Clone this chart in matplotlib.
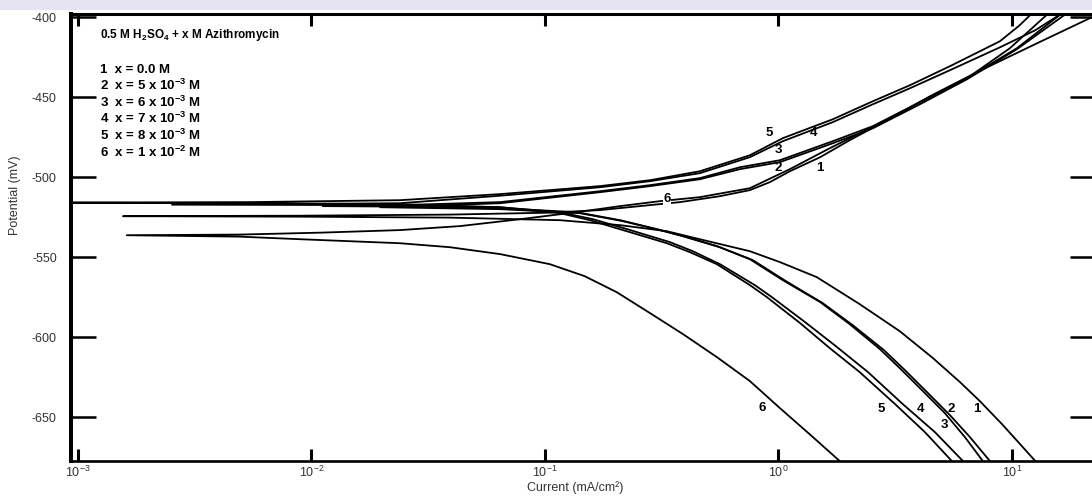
import matplotlib.pyplot as plt
from matplotlib.ticker import LogLocator, LogFormatterSciNotation, MultipleLocator, NullLocator
from matplotlib.patches import Rectangle

plt.rcParams['font.family'] = ['Liberation Sans', 'DejaVu Sans']
plt.rcParams['mathtext.fontset'] = 'custom'
plt.rcParams['mathtext.rm'] = 'Liberation Sans'
plt.rcParams['mathtext.it'] = 'Liberation Sans:italic'
plt.rcParams['mathtext.bf'] = 'Liberation Sans:bold'
plt.rcParams['axes.unicode_minus'] = False

# Curvas de Tafel: corriente (mA/cm2) y potencial (mV), rama catodica -> Ecorr -> rama anodica
i1 = [12.6, 9.15, 7.29, 5.99, 4.59, 3.31, 2.23, 1.46, 1.015, 0.755, 0.461, 0.333, 0.210, 0.116,
      0.0392, 0.00893, 0.00156,
      0.00893, 0.0392, 0.105, 0.172, 0.255, 0.379, 0.562, 0.755, 0.920, 1.12, 1.51, 2.02, 2.92,
      4.46, 7.08, 12.8, 22.0, 29.0]
e1 = [-677.5, -655, -640, -628.1, -613.1, -596.3, -579.4, -562.5, -553.1, -546.3, -538.8, -533.8,
      -530, -526.9, -525.3, -524.7, -524.4,
      -524.1, -523.4, -522.2, -520.6, -518.1, -515.6, -511.9, -508.1, -503.1, -496.3, -487.5,
      -476.9, -464.4, -449.4, -434.4, -416.3, -400, -391.9]

i2 = [8.05, 6.61, 5.43, 4.33, 3.48, 2.83, 2.08, 1.55, 1.077, 0.778, 0.562, 0.390, 0.311, 0.216,
      0.141, 0.0642, 0.0197,
      0.0642, 0.172, 0.282, 0.461, 0.684, 1.015, 1.71, 2.54, 4.04, 6.42, 10.5, 17.2, 19.0]
e2 = [-677.5, -662.5, -648.8, -634.4, -620.6, -608.1, -592.5, -578.8, -565, -551.9, -543.8, -536.9,
      -533.1, -527.5, -522.5, -520, -518.8,
      -516.3, -509.4, -505.6, -501.3, -495, -490.6, -478.8, -469.4, -454.4, -438.8, -420, -397.5,
      -393.1]

i3 = [7.51, 6.29, 5.16, 4.16, 3.31, 2.72, 2.02, 1.51, 1.045, 0.755, 0.545, 0.379, 0.302, 0.210,
      0.137, 0.0642, 0.0239, 0.0112,
      0.0239, 0.0642, 0.172, 0.282, 0.461, 0.684, 1.015, 1.71, 2.54, 4.04, 6.42, 10.5, 16.4, 18.1]
e3 = [-677.5, -662.5, -647.5, -633.8, -619.4, -607.5, -591.9, -578.1, -564.4, -551.3, -543.1,
      -536.3, -532.5, -526.9, -521.9, -519.4, -518.4, -518.1,
      -517.5, -515.6, -508.8, -505, -500.6, -493.8, -489.4, -477.5, -468.1, -453.1, -438.1,
      -419.4, -397.5, -393.1]

i4 = [6.17, 4.68, 3.41, 2.42, 1.76, 1.30, 0.938, 0.793, 0.562, 0.430, 0.343, 0.225, 0.161, 0.116,
      0.0642, 0.0239, 0.00253,
      0.0239, 0.0642, 0.172, 0.282, 0.461, 0.755, 1.045, 1.71, 2.54, 3.66, 5.43, 8.89, 12.6,
      16.4, 18.1]
e4 = [-677.5, -659.4, -641.9, -621.9, -605.6, -590.6, -575, -567.5, -554.4, -546.3, -540.6, -532.5,
      -526.3, -521.9, -518.8, -517.5, -517.2,
      -516.3, -511.6, -506.3, -502.5, -497.5, -487.5, -477.5, -465.6, -454.4, -444.4, -433.1,
      -418.8, -408.1, -397.5, -392.5]

i5 = [5.53, 4.24, 3.16, 2.23, 1.66, 1.24, 0.893, 0.755, 0.545, 0.418, 0.333, 0.216, 0.156, 0.116,
      0.0642, 0.0239, 0.00545, 0.000687,
      0.00545, 0.0239, 0.0642, 0.172, 0.282, 0.461, 0.755, 1.045, 1.71, 2.54, 3.66, 5.43, 8.89,
      10.8, 12.2, 13.2]
e5 = [-677.5, -659.4, -641.9, -621.9, -606.9, -591.3, -575, -567.5, -554.4, -546.9, -541.3, -533.1,
      -526.9, -522.5, -518.8, -516.9, -516.3, -515.9,
      -515.6, -514.4, -510.6, -505.6, -501.9, -496.3, -486.3, -475.6, -463.8, -452.5, -442.5,
      -430.6, -415, -405, -397.5, -391.9]

i6 = [1.83, 1.39, 1.015, 0.755, 0.545, 0.390, 0.282, 0.203, 0.148, 0.105, 0.0642, 0.0392, 0.0239,
      0.00893, 0.00494, 0.00162,
      0.00494, 0.0109, 0.0239, 0.0433, 0.0781, 0.137, 0.210, 0.311, 0.461, 0.755, 1.12, 1.66,
      2.47, 4.04, 6.61, 9.80, 12.6, 14.5]
e6 = [-677.5, -661.9, -644.4, -627.5, -612.5, -598.1, -585, -571.9, -561.9, -554.4, -548.1, -543.8,
      -541.3, -538.8, -537.2, -536.3,
      -535.9, -534.7, -533.1, -530.6, -526.3, -521.9, -518.1, -515, -512.5, -506.9, -495, -481.9,
      -469.4, -453.1, -436.9, -419.4, -405, -396.9]

curvas = [(i1, e1), (i2, e2), (i3, e3), (i4, e4), (i5, e5), (i6, e6)]

# Etiquetas numericas sobre las curvas (corriente, potencial, texto)
etiquetas_x = [0.91, 1.41, 1.0, 1.0, 1.51, 0.333, 0.85, 2.75, 4.08, 5.48, 5.16, 7.08]
etiquetas_y = [-472.5, -472.5, -483.1, -494.4, -494.4, -513.8, -644.4, -645, -645, -645, -655, -645]
etiquetas_t = ['5', '4', '3', '2', '1', '6', '6', '5', '4', '2', '3', '1']

leyenda = ['1  x = 0.0 M',
           r'2  x = 5 x 10$^{\mathbf{-3}}$ M',
           r'3  x = 6 x 10$^{\mathbf{-3}}$ M',
           r'4  x = 7 x 10$^{\mathbf{-3}}$ M',
           r'5  x = 8 x 10$^{\mathbf{-3}}$ M',
           r'6  x = 1 x 10$^{\mathbf{-2}}$ M']

fig = plt.figure(figsize=(10.92, 4.96), dpi=100)
ax = fig.add_axes([0.0647, 0.0706, 0.938, 0.901])

for corriente, potencial in curvas:
    ax.plot(corriente, potencial, color='k', lw=1.3)

for x, y, t in zip(etiquetas_x, etiquetas_y, etiquetas_t):
    fondo = dict(fc='white', ec='none', pad=0.3) if (t == '6' and y > -600) else None
    ax.text(x, y, t, fontsize=9.5, fontweight='bold', ha='center', va='center', bbox=fondo)

ax.text(0.0286, 0.946, r'0.5 M H$_\mathbf{2}$SO$_\mathbf{4}$ + x M Azithromycin',
        transform=ax.transAxes, fontsize=8.5, fontweight='bold', va='baseline')
for k, linea in enumerate(leyenda):
    ax.text(0.0286, 0.868 - k * 0.0375, linea, transform=ax.transAxes,
            fontsize=9.5, fontweight='bold', va='baseline')

ax.set_xscale('log')
ax.set_xlim(10 ** -3.031, 10 ** 1.356)
ax.set_ylim(-677.5, -398)
ax.xaxis.set_major_locator(LogLocator(base=10, numticks=10))
ax.xaxis.set_major_formatter(LogFormatterSciNotation())
ax.xaxis.set_minor_locator(NullLocator())
ax.yaxis.set_major_locator(MultipleLocator(50))

ax.tick_params(axis='x', which='major', direction='in', length=8.5, width=2.2,
               top=True, pad=3, labelsize=9, labelcolor='#333333')
ax.tick_params(axis='y', which='major', direction='in', length=18, width=1.8,
               right=True, pad=10, labelsize=9, labelcolor='#333333')

for lado, ancho in [('left', 2.9), ('bottom', 1.9), ('top', 2.2), ('right', 2.2)]:
    ax.spines[lado].set_linewidth(ancho)

fig.text(575 / 1092, 1 - 488 / 496, 'Current (mA/cm²)', fontsize=9, color='#333333',
         ha='center', va='center')
fig.text(15 / 1092, 1 - 195 / 496, 'Potential (mV)', fontsize=9, color='#333333',
         ha='center', va='center', rotation=90)

# franja clara superior como en la captura original
fig.patches.append(Rectangle((0, 1 - 10 / 496), 1, 10 / 496, transform=fig.transFigure,
                             fc='#e4e4f4', ec='none', zorder=-1))

fig.savefig('out.png', dpi=100)
